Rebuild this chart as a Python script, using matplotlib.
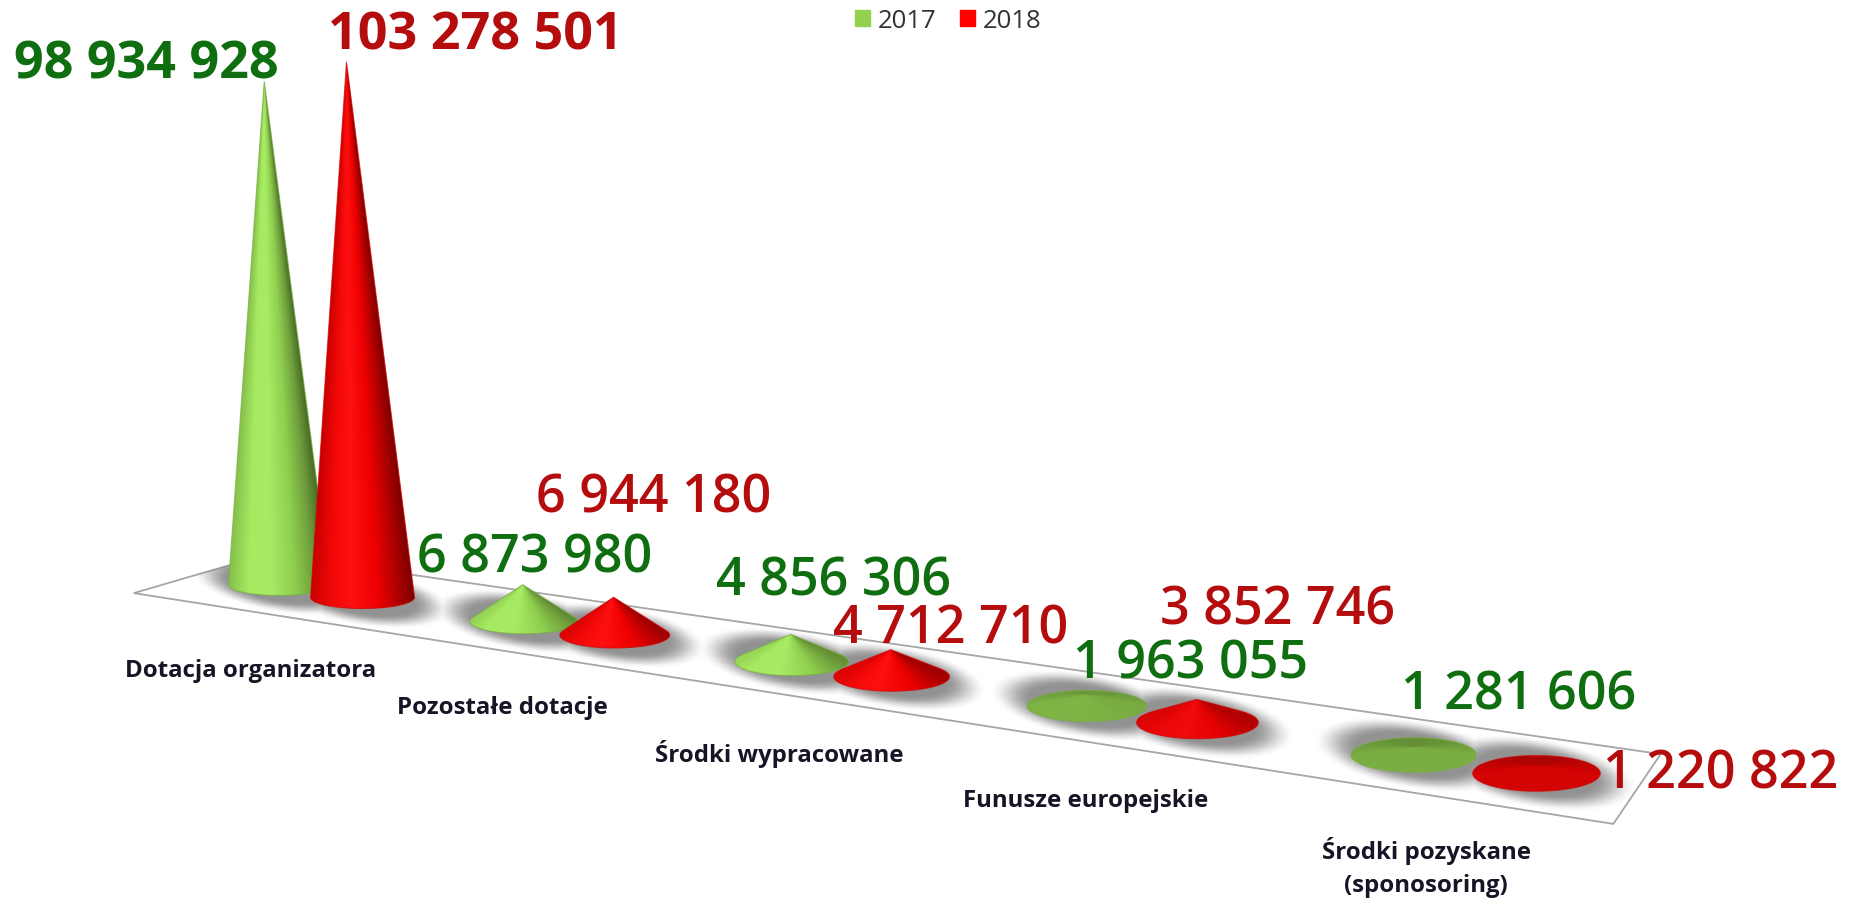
import numpy as np
import matplotlib
matplotlib.use('Agg')
import matplotlib.pyplot as plt
from matplotlib.patches import Patch, Polygon, PathPatch
from matplotlib.path import Path
from matplotlib.colors import to_rgb

plt.rcParams['font.family'] = ['Open Sans', 'DejaVu Sans']

categories = ['Dotacja organizatora', 'Pozostałe dotacje', 'Środki wypracowane',
              'Funusze europejskie', 'Środki pozyskane\n(sponosoring)']
series_names = ['2017', '2018']
values_2017 = [98934928, 6873980, 4856306, 1963055, 1281606]
values_2018 = [103278501, 6944180, 4712710, 3852746, 1220822]
labels_2017 = ['98 934 928', '6 873 980', '4 856 306', '1 963 055', '1 281 606']
labels_2018 = ['103 278 501', '6 944 180', '4 712 710', '3 852 746', '1 220 822']

# layout, in units of the shrunk picture (1568 wide)
W, H = 1568, 763
floor_pts = [(113, 502), (1363, 697), (1403, 638), (226, 469)]
pos_2017 = [(124, 55), (452, 472), (704, 492), (1006, 562), (1283, 588)]
pos_2018 = [(402, 30), (552, 422), (803, 532), (1079, 516), (1454, 655)]
cat_pos = [(212, 567), (424, 598), (658, 637), (917, 677), (1205, 733)]

green_ramp = ['#86c04a', '#a6ea62', '#a8ec66', '#8fd04f', '#6f9e3c', '#466a24']
red_ramp = ['#c80000', '#f20808', '#ff1010', '#ee0000', '#b00000', '#7c0000']
ramp_x = [-1, -0.6, -0.2, 0.3, 0.7, 1]


def cone_geometry(i, s, value):
    # depth runs along the floor, cones grow towards the viewer
    p = i + 0.35 * s
    cx = 236 + 198 * p + 8 * p ** 2 + 0.6 * p ** 3
    cy = 495 + 0.15 * (cx - 236)
    hw = 43 + 2.5 * p
    hh = 9 + 1.4 * p
    h = value / 1e6 * (4.3 + 0.23 * p)
    return cx, cy, hw, hh, h


def draw_cone(ax, cx, cy, hw, hh, h, ramp, flat, z):
    ax_x = cx - 0.03 * h
    ax_y = cy - h
    px, py = (ax_x - cx) / hw, (ax_y - cy) / hh
    r = np.hypot(px, py)

    # outline: apex, tangents to the base, front arc
    if r > 1:
        a0 = np.arctan2(py, px)
        da = np.arccos(1 / r)
        t = np.linspace(a0 + da, a0 + 2 * np.pi - da, 120)
        xs = np.r_[ax_x, cx + hw * np.cos(t)]
        ys = np.r_[ax_y, cy + hh * np.sin(t)]
    else:
        t = np.linspace(0, 2 * np.pi, 120)
        xs = cx + hw * np.cos(t)
        ys = cy + hh * np.sin(t)
    verts = np.c_[xs, ys]
    path = Path(np.r_[verts, verts[:1]], closed=True)

    x0, x1 = cx - hw - 2, cx + hw + 2
    y0, y1 = min(ax_y, cy - hh) - 2, cy + hh + 2
    gx = np.linspace(x0, x1, int((x1 - x0) * 2.4))
    gy = np.linspace(y0, y1, max(int((y1 - y0) * 2.4), 8))
    xx, yy = np.meshgrid(gx, gy)

    # trace each pixel from the apex down to the base circle
    dx = (xx - cx) / hw - px
    dy = (yy - cy) / hh - py
    n = np.hypot(dx, dy) + 1e-6
    dx, dy = dx / n, dy / n
    b = px * dx + py * dy
    c = px ** 2 + py ** 2 - 1
    k = -b + np.sqrt(np.clip(b ** 2 - c, 0, None))
    qx = px + k * dx
    qy = py + k * dy

    # small cones never get the dark edge of the tall ones
    qx = qx * (0.72 + 0.28 * min(h / 100, 1))

    steep = np.clip((h / hh - 0.6) / 1.2, 0, 1)
    rgb = np.array([to_rgb(col) for col in ramp])
    flat_rgb = np.array(to_rgb(flat))
    img = np.zeros(xx.shape + (3,))
    for ch in range(3):
        lit = np.interp(qx, ramp_x, rgb[:, ch])
        img[..., ch] = steep * lit + (1 - steep) * flat_rgb[ch]
    img *= (1 + 0.18 * np.clip(qy, -1, 0) * (1 - steep))[..., None]

    im = ax.imshow(np.clip(img, 0, 1), extent=(x0, x1, y1, y0), origin='upper',
                   interpolation='bilinear', zorder=z, aspect='auto')
    patch = PathPatch(path, facecolor='none', edgecolor=flat, lw=0.8, alpha=0.7, zorder=z + 0.1)
    ax.add_patch(patch)
    im.set_clip_path(patch)


fig = plt.figure(figsize=(18.56, 9.03), dpi=100)
ax = fig.add_axes([0, 0, 1, 1])

floor = Polygon(floor_pts, closed=True, facecolor='white', edgecolor='#a6a6a6', lw=1.3, zorder=1)
ax.add_patch(floor)

# soft grey shadows on the floor
gx = np.linspace(0, W, W)
gy = np.linspace(0, H, H)
xx, yy = np.meshgrid(gx, gy)
shade = np.zeros(xx.shape)
for i in range(len(categories)):
    for s, vals in enumerate([values_2017, values_2018]):
        cx, cy, hw, hh, h = cone_geometry(i, s, vals[i])
        d = np.hypot((xx - cx) / (hw + 32), (yy - cy - 0.15 * (xx - cx)) / (hh + 15))
        f = np.clip((1 - d) / 0.45, 0, 1)
        shade = np.maximum(shade, f * f * (3 - 2 * f))
rgba = np.zeros(xx.shape + (4,))
rgba[..., :3] = 0.5
rgba[..., 3] = 0.85 * shade
im = ax.imshow(rgba, extent=(0, W, H, 0), origin='upper', zorder=1.5, aspect='auto')
im.set_clip_path(floor)

z = 3
for i in range(len(categories)):
    for s, vals in enumerate([values_2017, values_2018]):
        cx, cy, hw, hh, h = cone_geometry(i, s, vals[i])
        if s == 0:
            draw_cone(ax, cx, cy, hw, hh, h, green_ramp, '#7aae42', z)
        else:
            draw_cone(ax, cx, cy, hw, hh, h, red_ramp, '#d30404', z)
        z += 1

for i in range(len(categories)):
    weight = 'bold' if i == 0 else 'semibold'
    ax.text(pos_2017[i][0], pos_2017[i][1], labels_2017[i], color='#0f6e0f', fontsize=37.5,
            fontweight=weight, ha='center', va='center', zorder=50)
    ax.text(pos_2018[i][0], pos_2018[i][1], labels_2018[i], color='#b50d0d', fontsize=37.5,
            fontweight=weight, ha='center', va='center', zorder=50)
    ax.text(cat_pos[i][0], cat_pos[i][1], categories[i], color='#151525', fontsize=17.3,
            fontweight='bold', ha='center', va='center', linespacing=1.45, zorder=50)

handles = [Patch(color='#92d050', label=series_names[0]), Patch(color='#ff0000', label=series_names[1])]
ax.legend(handles=handles, loc='center', bbox_to_anchor=(801, 18), bbox_transform=ax.transData,
          ncol=2, frameon=False, fontsize=18.5, handlelength=0.6, handleheight=0.6,
          handletextpad=0.3, columnspacing=0.9, labelcolor='#333333')

ax.set_xlim(0, W)
ax.set_ylim(H, 0)
ax.axis('off')

fig.savefig('out.png', dpi=100, facecolor='white')
